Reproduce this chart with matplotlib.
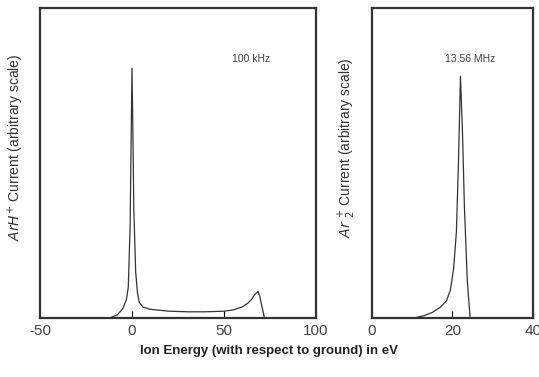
#!/usr/bin/env python3
"""Ion energy distributions at 100 kHz and 13.56 MHz."""

import matplotlib
matplotlib.use("Agg")
import matplotlib.pyplot as plt

plt.rcParams["font.family"] = ["Liberation Sans", "DejaVu Sans"]
plt.rcParams["axes.unicode_minus"] = False

# 100 kHz, ArH+ (arbitrary scale)
lf_energy = [-12, -8, -5, -3, -2, -1, -0.5, 0, 0.5, 1, 2, 3, 4, 6, 10, 20, 30,
             40, 50, 55, 60, 63, 65, 67, 68.5, 69.5, 70.5, 71.5, 72]
lf_current = [0.0, 0.01, 0.03, 0.06, 0.1, 0.3, 0.55, 0.806, 0.6, 0.35, 0.15,
              0.08, 0.05, 0.035, 0.028, 0.022, 0.02, 0.02, 0.022, 0.026, 0.036,
              0.048, 0.06, 0.078, 0.085, 0.07, 0.04, 0.015, 0.0]

# 13.56 MHz, Ar2+ (arbitrary scale)
hf_energy = [10.5, 13, 15, 17, 18.5, 19.5, 20.3, 21, 21.5, 22, 22.5, 23, 23.7, 24.4]
hf_current = [0.0, 0.008, 0.018, 0.035, 0.055, 0.09, 0.16, 0.28, 0.5, 0.78,
              0.6, 0.35, 0.12, 0.0]

fig = plt.figure(figsize=(5.39, 3.77), dpi=100)
ax1 = fig.add_axes([0.0742, 0.1565, 0.512, 0.822])
ax2 = fig.add_axes([0.690, 0.1565, 0.2987, 0.822])

line_kw = dict(color="#333333", lw=0.9)
ax1.plot(lf_energy, lf_current, **line_kw)
ax2.plot(hf_energy, hf_current, **line_kw)

ax1.set_xlim(-50, 100)
ax2.set_xlim(0, 40)
for ax in (ax1, ax2):
    ax.set_ylim(0, 1)
    ax.set_yticks([])
    ax.tick_params(axis="x", direction="in", length=5, width=0.8,
                   labelsize=11, labelcolor="#444444", pad=4)
    for s in ax.spines.values():
        s.set_linewidth(1.6)
        s.set_color("#333333")

ax1.set_xticks([-50, 0, 50, 100])
ax2.set_xticks([0, 20, 40])

ax1.set_ylabel(r"$\mathit{ArH}^{+}$ Current (arbitrary scale)", fontsize=10,
               color="#333333")
ax1.yaxis.set_label_coords(-0.05, 0.55)
ax2.set_ylabel(r"$\mathit{Ar}\ ^{+}_{2}$ Current (arbitrary scale)", fontsize=10,
               color="#333333")
ax2.yaxis.set_label_coords(-0.085, 0.55)

ax1.text(64.7, 0.835, "100 kHz", fontsize=7.5, color="#444444", ha="center", va="center")
ax2.text(24.3, 0.837, "13.56 MHz", fontsize=7.5, color="#444444", ha="center", va="center")

fig.text(0.50, 0.07, "Ion Energy (with respect to ground) in eV", fontsize=9.5,
         fontweight="bold", color="#222222", ha="center", va="center")

fig.savefig("out.png", dpi=100)
